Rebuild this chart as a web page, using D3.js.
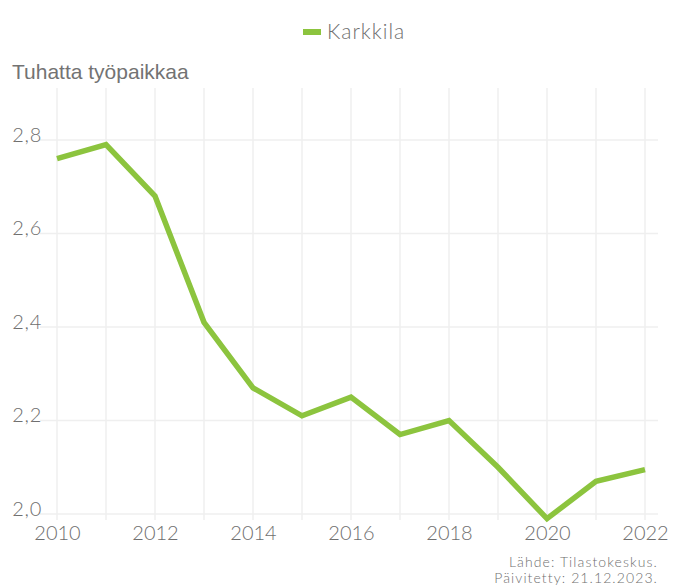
<!DOCTYPE html>
<html>
<head>
<meta charset="utf-8">
<script src="https://cdn.jsdelivr.net/npm/d3@7/dist/d3.min.js"></script>
<style>
  body { margin: 0; background: #fff; }
  svg text { font-family: Lato, "Open Sans", sans-serif; fill: #6f6f6f; }
</style>
</head>
<body>
<svg id="chart" width="685" height="588"></svg>
<script>
var years = [2010, 2011, 2012, 2013, 2014, 2015, 2016, 2017, 2018, 2019, 2020, 2021, 2022];
var karkkila = [2.76, 2.79, 2.68, 2.41, 2.27, 2.21, 2.25, 2.17, 2.20, 2.10, 1.99, 2.07, 2.095];
var yTicks = [2.0, 2.2, 2.4, 2.6, 2.8];
var xTicks = [2010, 2012, 2014, 2016, 2018, 2020, 2022];
var seriesName = "Karkkila";
var yTitle = "Tuhatta työpaikkaa";
var sourceLines = ["Lähde: Tilastokeskus.", "Päivitetty: 21.12.2023."];

var svg = d3.select("#chart");
var green = "#8cc43e";

var xScale = d3.scaleLinear().domain([2010, 2022]).range([57, 645]);
var yScale = d3.scaleLinear().domain([2.0, 2.8]).range([514, 140]);
var plotTop = 88, plotBottom = 520, gridLeft = 40, gridRight = 658;

// gridlines
var grid = svg.append("g").attr("class", "grid");
grid.selectAll(".vgrid")
    .data(years)
    .enter().append("line")
    .attr("x1", function (d) { return xScale(d); })
    .attr("x2", function (d) { return xScale(d); })
    .attr("y1", plotTop)
    .attr("y2", plotBottom)
    .attr("stroke", "#efefef")
    .attr("stroke-width", 1.5);

grid.selectAll(".hgrid")
    .data(yTicks)
    .enter().append("line")
    .attr("x1", gridLeft)
    .attr("x2", gridRight)
    .attr("y1", function (d) { return yScale(d); })
    .attr("y2", function (d) { return yScale(d); })
    .attr("stroke", "#efefef")
    .attr("stroke-width", 1.5);

// y axis labels
var yAxis = d3.axisLeft(yScale)
    .tickValues(yTicks)
    .tickFormat(function (d) { return d3.format(".1f")(d).replace(".", ","); })
    .tickSize(0)
    .tickPadding(0);

svg.append("g")
    .attr("transform", "translate(42,0)")
    .call(yAxis)
    .call(function (g) { g.select(".domain").remove(); })
    .selectAll("text")
    .attr("font-size", 20)
    .attr("font-weight", 300)
    .attr("letter-spacing", 0.7)
    .attr("dy", "0.05em");

// x axis labels
var xAxis = d3.axisBottom(xScale)
    .tickValues(xTicks)
    .tickFormat(d3.format("d"))
    .tickSize(0)
    .tickPadding(0);

svg.append("g")
    .attr("transform", "translate(0,525)")
    .call(xAxis)
    .call(function (g) { g.select(".domain").remove(); })
    .selectAll("text")
    .attr("font-size", 20)
    .attr("font-weight", 300)
    .attr("dy", "0.75em");

// line
var line = d3.line()
    .x(function (d, i) { return xScale(years[i]); })
    .y(function (d) { return yScale(d); });

svg.append("path")
    .datum(karkkila)
    .attr("fill", "none")
    .attr("stroke", green)
    .attr("stroke-width", 5.5)
    .attr("stroke-linejoin", "miter")
    .attr("d", line);

// y title
svg.append("text")
    .attr("x", 12)
    .attr("y", 79)
    .style("font-family", "'Liberation Sans', Arial, sans-serif")
    .style("font-weight", 400)
    .style("fill", "#737373")
    .attr("font-size", 21)
    .text(yTitle);

// legend
svg.append("rect")
    .attr("x", 303)
    .attr("y", 29)
    .attr("width", 18)
    .attr("height", 6)
    .attr("fill", green);

svg.append("text")
    .attr("x", 327)
    .attr("y", 39)
    .attr("font-size", 21)
    .attr("font-weight", 300)
    .attr("letter-spacing", 1)
    .text(seriesName);

// source
svg.selectAll(".source")
    .data(sourceLines)
    .enter().append("text")
    .attr("x", 658)
    .attr("y", function (d, i) { return 567 + i * 16; })
    .attr("text-anchor", "end")
    .attr("font-size", 14)
    .attr("font-weight", 300)
    .attr("letter-spacing", 1.1)
    .text(function (d) { return d; });
</script>
</body>
</html>
